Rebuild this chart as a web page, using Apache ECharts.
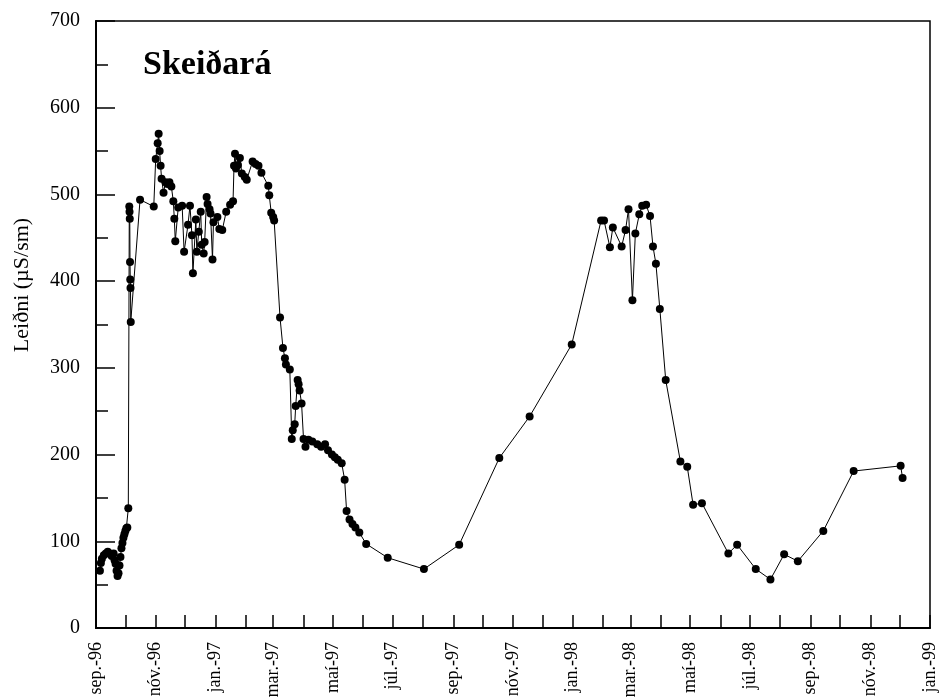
<!DOCTYPE html>
<html>
<head>
<meta charset="utf-8">
<script src="https://cdn.jsdelivr.net/npm/echarts@6/dist/echarts.min.js"></script>
<style>
  html, body { margin: 0; padding: 0; background: #fff; }
  #main { width: 943px; height: 697px; }
</style>
</head>
<body>
<div id="main"></div>
<script>
// sýnatökudagar og leiðni (µS/sm) í Skeiðará
const sampleDates = [
  '1996-09-05', '1996-09-06', '1996-09-07', '1996-09-09', '1996-09-11', '1996-09-13',
  '1996-09-15', '1996-09-17', '1996-09-19', '1996-09-20', '1996-09-21', '1996-09-22',
  '1996-09-23', '1996-09-24', '1996-09-25', '1996-09-26', '1996-09-27', '1996-09-28',
  '1996-09-29', '1996-09-30', '1996-10-01', '1996-10-02', '1996-10-03', '1996-10-04',
  '1996-10-05 00:00', '1996-10-05 06:00', '1996-10-05 12:00', '1996-10-05 18:00',
  '1996-10-06 00:00', '1996-10-06 06:00', '1996-10-06 12:00',
  '1996-10-16', '1996-10-30', '1996-11-01', '1996-11-03', '1996-11-04', '1996-11-05',
  '1996-11-06', '1996-11-07', '1996-11-09', '1996-11-11', '1996-11-13', '1996-11-15',
  '1996-11-17', '1996-11-19', '1996-11-20', '1996-11-21', '1996-11-24', '1996-11-28',
  '1996-11-30', '1996-12-04', '1996-12-06', '1996-12-08', '1996-12-09', '1996-12-12',
  '1996-12-13', '1996-12-15', '1996-12-17', '1996-12-18', '1996-12-20', '1996-12-21',
  '1996-12-23', '1996-12-24', '1996-12-26', '1996-12-27', '1996-12-29', '1996-12-30',
  '1997-01-03', '1997-01-05', '1997-01-08', '1997-01-12', '1997-01-16', '1997-01-19',
  '1997-01-20', '1997-01-21', '1997-01-22', '1997-01-24', '1997-01-26', '1997-01-28',
  '1997-01-31', '1997-02-02', '1997-02-08', '1997-02-11', '1997-02-14', '1997-02-17',
  '1997-02-24', '1997-02-25', '1997-02-27', '1997-03-01', '1997-03-02', '1997-03-08',
  '1997-03-11', '1997-03-13', '1997-03-14', '1997-03-18', '1997-03-20', '1997-03-21',
  '1997-03-23', '1997-03-24', '1997-03-26', '1997-03-27', '1997-03-28', '1997-03-30',
  '1997-04-01', '1997-04-03', '1997-04-06', '1997-04-10', '1997-04-15', '1997-04-19',
  '1997-04-23', '1997-04-26', '1997-04-30', '1997-05-03', '1997-05-06', '1997-05-10',
  '1997-05-13', '1997-05-15', '1997-05-18', '1997-05-21', '1997-05-24', '1997-05-28',
  '1997-06-04', '1997-06-26', '1997-08-02', '1997-09-07', '1997-10-18', '1997-11-18',
  '1997-12-31', '1998-01-30', '1998-02-02', '1998-02-08', '1998-02-11', '1998-02-20',
  '1998-02-24', '1998-02-27', '1998-03-03', '1998-03-06', '1998-03-10', '1998-03-13',
  '1998-03-17', '1998-03-21', '1998-03-24', '1998-03-27', '1998-03-31', '1998-04-06',
  '1998-04-21', '1998-04-28', '1998-05-04', '1998-05-13', '1998-06-09', '1998-06-18',
  '1998-07-07', '1998-07-22', '1998-08-05', '1998-08-19', '1998-09-14', '1998-10-15',
  '1998-12-02', '1998-12-04'
];
const conductivity = [
  66, 75, 80, 84, 86, 88,
  86, 83, 86, 78, 74, 66,
  60, 63, 72, 82, 92, 98,
  104, 108, 112, 115, 116, 138,
  486, 480, 472, 422,
  402, 392, 353,
  494, 486, 541, 559, 570, 550,
  533, 518, 502, 514, 512, 514,
  509, 492, 472, 446, 485, 487,
  434, 465, 487, 453, 409, 471,
  434, 457, 480, 442, 432, 445,
  497, 489, 483, 478, 425, 468,
  474, 460, 459, 480, 488, 492,
  533, 547, 530, 534, 542, 524,
  520, 517, 538, 535, 533, 525,
  510, 499, 479, 474, 470, 358,
  323, 311, 304, 298, 218, 228,
  235, 256, 286, 281, 274, 259,
  218, 209, 217, 215, 212, 209,
  212, 205, 200, 197, 194, 190,
  171, 135, 125, 120, 116, 110,
  97, 81, 68, 96, 196, 244,
  327, 470, 470, 439, 462, 440,
  459, 483, 378, 455, 477, 487,
  488, 475, 440, 420, 368, 286,
  192, 186, 142, 144, 86, 96,
  68, 56, 85, 77, 112, 181,
  187, 173
];

// merki á x-ás (annar hver mánuður)
const labelMonths = [
  '1996-09-01', '1996-11-01', '1997-01-01', '1997-03-01', '1997-05-01',
  '1997-07-01', '1997-09-01', '1997-11-01', '1998-01-01', '1998-03-01',
  '1998-05-01', '1998-07-01', '1998-09-01', '1998-11-01', '1999-01-01'
];
const tickLabels = [
  'sep.-96', 'nóv.-96', 'jan.-97', 'mar.-97', 'maí-97',
  'júl.-97', 'sep.-97', 'nóv.-97', 'jan.-98', 'mar.-98',
  'maí-98', 'júl.-98', 'sep.-98', 'nóv.-98', 'jan.-99'
];
const yTicks = [0, 100, 200, 300, 400, 500, 600, 700];

const serif = "'Liberation Serif', 'Times New Roman', serif";

// 'yyyy-MM-dd' eða 'yyyy-MM-dd hh:mm' -> ms
const toTime = (s) => {
  const parts = s.split(' ');
  const p = parts[0].split('-').map(Number);
  const h = parts[1] ? Number(parts[1].split(':')[0]) : 0;
  return new Date(p[0], p[1] - 1, p[2], h).getTime();
};

// mánaðarlegir smástrikar
const monthTicks = [];
for (let y = 1996, m = 8; y < 1999 || (y === 1999 && m === 0); ) {
  monthTicks.push(new Date(y, m, 1).getTime());
  m++;
  if (m > 11) { m = 0; y++; }
}
const labelTimes = labelMonths.map(toTime);
const labelMap = {};
labelTimes.forEach((t, i) => { labelMap[t] = tickLabels[i]; });

const seriesData = sampleDates.map((d, i) => [toTime(d), conductivity[i]]);

const chart = echarts.init(document.getElementById('main'));
chart.setOption({
  animation: false,
  backgroundColor: '#fff',
  grid: {
    left: 96, right: 13, top: 21, bottom: 69,
    outerBoundsMode: 'none',
    show: true, borderColor: '#000', borderWidth: 1.5
  },
  xAxis: {
    type: 'value',
    min: labelTimes[0],
    max: labelTimes[labelTimes.length - 1],
    splitLine: { show: false },
    axisLine: { lineStyle: { color: '#000', width: 2 } },
    axisTick: {
      inside: true, length: 13,
      lineStyle: { color: '#000', width: 1.5 },
      customValues: monthTicks
    },
    axisLabel: {
      rotate: 90,
      margin: 14,
      color: '#000',
      fontFamily: serif,
      fontSize: 18,
      customValues: labelTimes,
      formatter: (v) => labelMap[v] || ''
    }
  },
  yAxis: {
    type: 'value',
    min: yTicks[0],
    max: yTicks[yTicks.length - 1],
    interval: 100,
    splitLine: { show: false },
    axisLine: { show: true, lineStyle: { color: '#000', width: 2 } },
    axisTick: { inside: true, length: 19, lineStyle: { color: '#000', width: 1.5 } },
    minorTick: { show: true, splitNumber: 2, length: 12, lineStyle: { color: '#000', width: 1.5 } },
    minorSplitLine: { show: false },
    axisLabel: { color: '#000', fontFamily: serif, fontSize: 20, margin: 16 }
  },
  graphic: [
    {
      type: 'text',
      left: 143, top: 48,
      style: { text: 'Skeiðará', font: "bold 34px 'Liberation Serif', serif", fill: '#000' }
    },
    {
      type: 'text',
      x: 22, y: 285,
      rotation: Math.PI / 2,
      style: {
        text: 'Leiðni (µS/sm)', font: "22px 'Liberation Serif', serif", fill: '#000',
        align: 'center', verticalAlign: 'middle'
      }
    }
  ],
  series: [
    {
      name: 'Leiðni',
      type: 'line',
      data: seriesData,
      symbol: 'circle',
      symbolSize: 8,
      showAllSymbol: true,
      lineStyle: { color: '#000', width: 1 },
      itemStyle: { color: '#000' }
    }
  ]
});
</script>
</body>
</html>
